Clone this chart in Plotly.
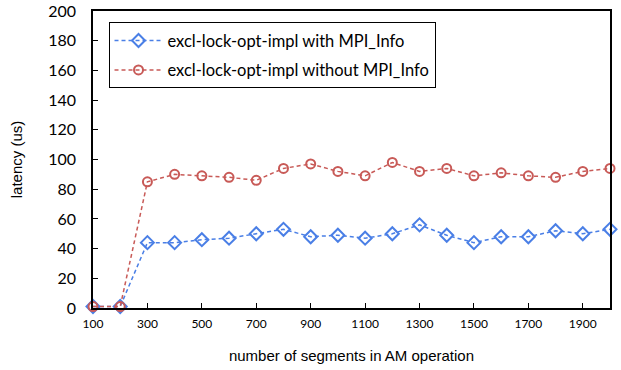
import plotly.graph_objects as go

segments = [100, 200, 300, 400, 500, 600, 700, 800, 900, 1000,
            1100, 1200, 1300, 1400, 1500, 1600, 1700, 1800, 1900, 2000]
with_info = [1, 1, 44, 44, 46, 47, 50, 53, 48, 49,
             47, 50, 56, 49, 44, 48, 48, 52, 50, 53]
without_info = [1, 1, 85, 90, 89, 88, 86, 94, 97, 92,
                89, 98, 92, 94, 89, 91, 89, 88, 92, 94]
x_tick_labels = [100, 300, 500, 700, 900, 1100, 1300, 1500, 1700, 1900]
y_ticks = list(range(0, 201, 20))

blue = "#4A7FE6"
red = "#C85A57"

fig = go.Figure()
fig.add_trace(go.Scatter(
    x=segments, y=with_info, mode="lines+markers",
    name="excl-lock-opt-impl with MPI_Info", legendgroup="a",
    line=dict(color=blue, width=1.5, dash="4px,3px"),
    marker=dict(symbol="diamond-open", size=10, color=blue, line=dict(width=2, color=blue)),
    cliponaxis=False,
))
fig.add_trace(go.Scatter(
    x=segments, y=without_info, mode="lines+markers",
    name="excl-lock-opt-impl without MPI_Info", legendgroup="b",
    line=dict(color=red, width=1.5, dash="4px,3px"),
    marker=dict(symbol="circle-open", size=9, color=red, line=dict(width=2, color=red)),
    cliponaxis=False,
))

fig.update_layout(
    width=621, height=370,
    margin=dict(l=93, r=11, t=11, b=62),
    paper_bgcolor="white", plot_bgcolor="white",
    font=dict(family="Lato, Open Sans, sans-serif", color="black"),
    showlegend=True,
    legend=dict(
        x=0.03, y=0.962, xanchor="left", yanchor="top",
        bordercolor="black", borderwidth=1, bgcolor="white",
        font=dict(size=16.5, family="Lato"),
        itemwidth=48, tracegroupgap=5,
    ),
    xaxis=dict(
        range=[100, 2000], tickvals=x_tick_labels, ticktext=[str(v) for v in x_tick_labels],
        showgrid=False, zeroline=False, showline=True, linecolor="black", linewidth=1.5,
        mirror=True, ticks="inside", ticklen=5, tickcolor="black", automargin=False,
        tickfont=dict(size=12, family="Lato"), ticklabelstandoff=4,
        title=dict(text="number of segments in AM operation",
                   font=dict(size=15, family="Liberation Sans"), standoff=20),
    ),
    yaxis=dict(
        range=[0, 200], tickvals=y_ticks,
        showgrid=False, zeroline=False, showline=True, linecolor="black", linewidth=1.5,
        mirror=True, ticks="inside", ticklen=5, tickcolor="black", automargin=False,
        tickfont=dict(size=16, family="Lato"), ticklabelstandoff=12,
        title=dict(text="latency (us)", font=dict(size=15, family="Liberation Sans"), standoff=22),
    ),
)

fig.write_html("out.html")
